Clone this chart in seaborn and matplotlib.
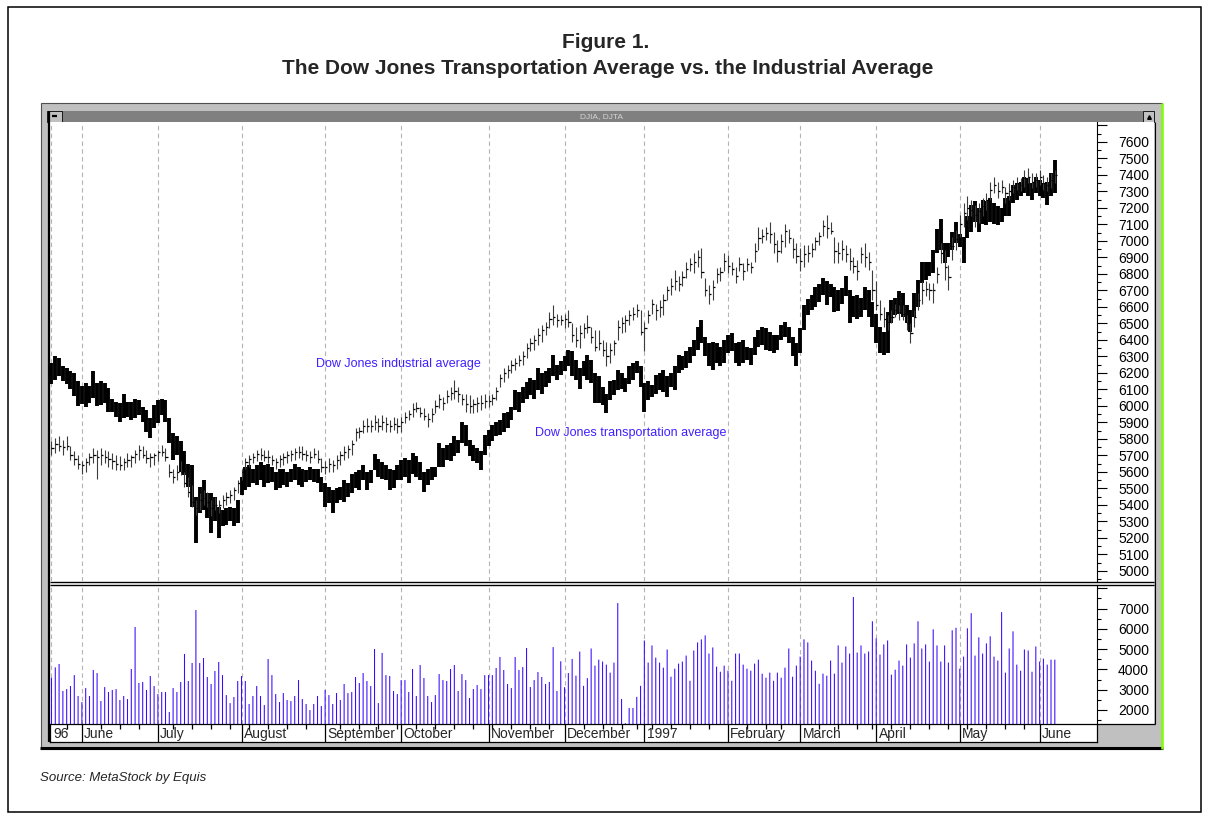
#!/usr/bin/env python3
# plot.py - MetaStock style overlay of DJIA and DJTA with NYSE volume, May 1996 - June 1997

import numpy as np
import pandas as pd
import matplotlib
matplotlib.use("Agg")
import matplotlib.pyplot as plt
import seaborn as sns
from matplotlib.patches import Rectangle

W, H = 1212, 822

# ---- data (one line per month: May96 .. Jun97) ----
DJTA_HIGH = [
    6260, 6300, 6290, 6240, 6230, 6210, 6200, 6150,
    6120, 6140, 6120, 6210, 6140, 6150, 6140, 6110, 6040, 6025, 6015, 6075, 6025, 6025, 6045, 6035, 5995, 5975, 5925, 6005,
    6035, 6045, 6035, 5925, 5835, 5815, 5785, 5725, 5650, 5640, 5450, 5510, 5550, 5470, 5470, 5450, 5390, 5370, 5380, 5390, 5380, 5430,
    5570, 5630, 5640, 5620, 5640, 5660, 5640, 5650, 5630, 5600, 5620, 5620, 5600, 5620, 5650, 5630, 5620, 5610, 5630, 5620, 5620, 5570,
    5530, 5510, 5490, 5500, 5510, 5550, 5530, 5590, 5600, 5610, 5640, 5600, 5610, 5710, 5680, 5660, 5640, 5620, 5610, 5640,
    5675, 5685, 5675, 5715, 5695, 5660, 5600, 5620, 5630, 5630, 5775, 5745, 5765, 5775, 5815, 5795, 5905, 5885, 5795, 5765, 5745, 5725, 5825,
    5855, 5885, 5905, 5915, 5955, 5965, 5995, 6095, 6085, 6115, 6145, 6170, 6160, 6230, 6200, 6210, 6230, 6310, 6250, 6270,
    6300, 6340, 6330, 6280, 6230, 6270, 6310, 6280, 6200, 6180, 6115, 6075, 6150, 6160, 6220, 6200, 6170, 6240, 6260, 6270, 6240,
    6140, 6150, 6125, 6190, 6200, 6220, 6180, 6200, 6240, 6310, 6300, 6330, 6360, 6400, 6480, 6520, 6420, 6380, 6390, 6380, 6360, 6400,
    6430, 6440, 6380, 6390, 6400, 6360, 6350, 6420, 6460, 6480, 6470, 6450, 6430, 6430, 6490, 6510, 6480, 6420, 6380,
    6470, 6610, 6650, 6670, 6720, 6740, 6775, 6760, 6740, 6720, 6705, 6715, 6785, 6705, 6665, 6675, 6655, 6720, 6705, 6630,
    6560, 6480, 6450, 6570, 6645, 6655, 6695, 6685, 6610, 6580, 6685, 6765, 6875, 6875, 6875, 6945, 7075, 7135, 6985, 6985, 7055, 7115,
    7045, 7025, 7150, 7220, 7240, 7200, 7250, 7240, 7260, 7230, 7210, 7200, 7260, 7270, 7340, 7350, 7360, 7390, 7380, 7350, 7390,
    7370, 7350, 7360, 7410, 7490,
]
DJTA_LOW = [
    6130, 6160, 6180, 6150, 6130, 6100, 6060, 6000,
    6010, 5995, 6020, 6050, 6000, 6005, 6015, 5965, 5965, 5935, 5905, 5925, 5935, 5915, 5925, 5945, 5905, 5845, 5805, 5865,
    5895, 5945, 5905, 5775, 5675, 5705, 5600, 5580, 5510, 5390, 5170, 5350, 5370, 5320, 5230, 5300, 5200, 5270, 5280, 5300, 5270, 5290,
    5460, 5490, 5510, 5530, 5520, 5550, 5510, 5530, 5540, 5490, 5500, 5520, 5510, 5540, 5550, 5520, 5510, 5540, 5550, 5540, 5530, 5480,
    5390, 5410, 5350, 5410, 5430, 5420, 5450, 5470, 5500, 5490, 5550, 5490, 5530, 5610, 5570, 5560, 5550, 5490, 5500, 5550,
    5550, 5570, 5530, 5590, 5570, 5550, 5480, 5520, 5550, 5570, 5630, 5630, 5675, 5665, 5695, 5715, 5775, 5755, 5695, 5665, 5655, 5610, 5705,
    5755, 5785, 5815, 5825, 5845, 5865, 5915, 5975, 5965, 6015, 6045, 6065, 6045, 6095, 6075, 6115, 6140, 6180, 6160, 6190,
    6210, 6240, 6180, 6160, 6100, 6180, 6160, 6140, 6015, 6015, 6005, 5955, 6035, 6065, 6095, 6105, 6085, 6135, 6160, 6200, 6115,
    5965, 6035, 6055, 6075, 6095, 6085, 6055, 6115, 6095, 6200, 6220, 6230, 6260, 6300, 6340, 6380, 6300, 6240, 6220, 6260, 6240, 6260,
    6320, 6330, 6260, 6240, 6260, 6280, 6250, 6310, 6360, 6370, 6340, 6330, 6320, 6340, 6400, 6420, 6380, 6300, 6240,
    6320, 6460, 6550, 6580, 6600, 6630, 6670, 6610, 6660, 6570, 6575, 6620, 6665, 6500, 6540, 6530, 6540, 6580, 6540, 6480,
    6380, 6320, 6310, 6320, 6500, 6550, 6560, 6540, 6500, 6450, 6540, 6600, 6745, 6765, 6785, 6805, 6925, 6945, 6865, 6905, 6945, 6985,
    6965, 6865, 7015, 7055, 7115, 7055, 7105, 7095, 7115, 7105, 7095, 7115, 7150, 7150, 7230, 7250, 7270, 7290, 7270, 7250, 7290,
    7270, 7260, 7220, 7270, 7290,
]
DJIA_HIGH = [
    5785, 5805, 5815, 5795, 5815, 5755, 5725, 5705,
    5665, 5685, 5715, 5745, 5735, 5745, 5735, 5725, 5715, 5705, 5695, 5685, 5715, 5705, 5735, 5765, 5755, 5735, 5715, 5715,
    5735, 5765, 5745, 5650, 5620, 5645, 5665, 5600, 5570, 5520, 5430, 5470, 5490, 5480, 5430, 5450, 5430, 5460, 5480, 5490, 5510, 5550,
    5620, 5685, 5705, 5715, 5735, 5745, 5735, 5735, 5705, 5685, 5705, 5715, 5725, 5735, 5745, 5755, 5755, 5735, 5725, 5745, 5735, 5685,
    5665, 5685, 5675, 5705, 5725, 5755, 5765, 5795, 5865, 5875, 5915, 5925, 5915, 5945, 5925, 5945, 5935, 5915, 5935, 5925,
    5935, 5965, 5975, 6015, 6025, 5995, 5985, 5955, 5985, 6035, 6075, 6055, 6095, 6115, 6155, 6115, 6075, 6075, 6065, 6045, 6055, 6065, 6075,
    6065, 6075, 6115, 6195, 6230, 6250, 6280, 6290, 6310, 6330, 6380, 6410, 6430, 6470, 6490, 6510, 6570, 6610, 6560, 6550,
    6560, 6580, 6500, 6480, 6490, 6500, 6550, 6480, 6460, 6460, 6400, 6390, 6380, 6400, 6520, 6540, 6550, 6580, 6600, 6620, 6580,
    6510, 6580, 6650, 6620, 6640, 6680, 6730, 6775, 6825, 6785, 6815, 6875, 6895, 6925, 6945, 6955, 6775, 6735, 6765, 6835, 6845, 6925,
    6915, 6875, 6845, 6905, 6865, 6895, 6875, 6985, 7085, 7075, 7085, 7115, 7055, 7005, 7045, 7105, 7075, 7015, 6985,
    6955, 6975, 6975, 6985, 7025, 7055, 7130, 7160, 7115, 7025, 6995, 7005, 6975, 6955, 6905, 6885, 6965, 6985, 6935, 6825,
    6755, 6645, 6600, 6550, 6580, 6620, 6610, 6610, 6550, 6500, 6580, 6685, 6755, 6755, 6745, 6745, 6845, 6985, 6945, 6855, 7025, 7065,
    7160, 7230, 7270, 7250, 7220, 7230, 7260, 7290, 7360, 7390, 7360, 7370, 7330, 7350, 7370, 7390, 7380, 7430, 7440, 7410, 7410,
    7430, 7400, 7390, 7410, 7430,
]
DJIA_LOW = [
    5705, 5715, 5725, 5705, 5735, 5675, 5640, 5620,
    5590, 5600, 5645, 5655, 5560, 5640, 5655, 5630, 5620, 5610, 5610, 5610, 5630, 5630, 5655, 5675, 5685, 5655, 5630, 5640,
    5665, 5695, 5665, 5570, 5530, 5550, 5580, 5510, 5450, 5390, 5340, 5370, 5400, 5390, 5330, 5370, 5350, 5380, 5400, 5410, 5430, 5470,
    5550, 5620, 5630, 5655, 5665, 5675, 5665, 5655, 5645, 5620, 5630, 5645, 5655, 5665, 5675, 5685, 5675, 5665, 5655, 5685, 5655, 5600,
    5590, 5600, 5600, 5620, 5645, 5675, 5685, 5705, 5785, 5805, 5835, 5845, 5845, 5855, 5845, 5855, 5845, 5845, 5855, 5835,
    5845, 5895, 5915, 5935, 5965, 5935, 5915, 5875, 5905, 5955, 5985, 5975, 6015, 6035, 6045, 6025, 6005, 5965, 5955, 5955, 5965, 5975, 5985,
    5995, 6005, 6035, 6115, 6145, 6170, 6200, 6220, 6240, 6250, 6290, 6330, 6340, 6370, 6390, 6430, 6470, 6490, 6480, 6490,
    6470, 6480, 6390, 6360, 6350, 6410, 6440, 6380, 6330, 6340, 6300, 6240, 6260, 6310, 6400, 6440, 6450, 6490, 6520, 6540, 6430,
    6330, 6500, 6560, 6520, 6540, 6550, 6640, 6675, 6705, 6695, 6725, 6775, 6815, 6805, 6845, 6775, 6665, 6620, 6640, 6745, 6755, 6815,
    6805, 6795, 6745, 6815, 6765, 6815, 6805, 6875, 6945, 6985, 7005, 6985, 6925, 6875, 6925, 6965, 6985, 6895, 6865,
    6815, 6845, 6875, 6905, 6945, 6975, 7030, 7020, 7045, 6865, 6865, 6885, 6875, 6825, 6805, 6765, 6865, 6845, 6825, 6640,
    6580, 6520, 6480, 6460, 6500, 6540, 6520, 6520, 6460, 6380, 6480, 6580, 6620, 6665, 6645, 6625, 6745, 6865, 6765, 6705, 6885, 6945,
    7025, 7085, 7130, 7150, 7085, 7110, 7150, 7190, 7250, 7290, 7260, 7290, 7230, 7250, 7290, 7310, 7300, 7330, 7350, 7320, 7330,
    7340, 7310, 7300, 7320, 7350,
]
DJIA_CLOSE = [
    5745, 5770, 5760, 5750, 5755, 5700, 5680, 5650,
    5640, 5660, 5690, 5700, 5690, 5700, 5690, 5680, 5665, 5650, 5640, 5660, 5670, 5690, 5710, 5730, 5700, 5685, 5690, 5700,
    5720, 5720, 5690, 5600, 5570, 5600, 5600, 5530, 5480, 5420, 5380, 5430, 5440, 5420, 5380, 5400, 5400, 5430, 5450, 5460, 5490, 5530,
    5600, 5660, 5680, 5690, 5710, 5700, 5690, 5690, 5670, 5660, 5680, 5690, 5700, 5710, 5720, 5720, 5710, 5700, 5690, 5710, 5680, 5630,
    5630, 5650, 5640, 5670, 5700, 5720, 5740, 5770, 5840, 5850, 5880, 5880, 5880, 5900, 5880, 5900, 5890, 5880, 5890, 5880,
    5900, 5930, 5950, 5980, 5990, 5960, 5940, 5920, 5950, 6000, 6040, 6020, 6060, 6080, 6090, 6070, 6040, 6010, 6000, 6010, 6020, 6020, 6030,
    6030, 6050, 6090, 6170, 6200, 6220, 6250, 6260, 6280, 6300, 6350, 6380, 6400, 6430, 6460, 6480, 6530, 6540, 6520, 6520,
    6530, 6510, 6430, 6400, 6440, 6470, 6480, 6420, 6360, 6380, 6340, 6300, 6340, 6380, 6480, 6500, 6520, 6550, 6560, 6580, 6450,
    6470, 6550, 6620, 6580, 6600, 6640, 6700, 6730, 6760, 6740, 6780, 6830, 6860, 6870, 6900, 6810, 6700, 6680, 6720, 6800, 6810, 6880,
    6850, 6830, 6790, 6860, 6820, 6860, 6840, 6940, 7020, 7030, 7050, 7040, 6980, 6940, 7000, 7060, 7020, 6950, 6910,
    6880, 6920, 6930, 6950, 7000, 7030, 7090, 7080, 7060, 6940, 6930, 6950, 6920, 6880, 6850, 6820, 6920, 6900, 6870, 6700,
    6610, 6560, 6530, 6510, 6540, 6580, 6570, 6560, 6500, 6440, 6540, 6640, 6700, 6710, 6700, 6700, 6800, 6930, 6840, 6780, 6970, 7010,
    7100, 7170, 7200, 7190, 7160, 7180, 7210, 7250, 7310, 7340, 7300, 7330, 7290, 7300, 7330, 7350, 7340, 7380, 7390, 7360, 7370,
    7390, 7350, 7340, 7370, 7400,
]
VOLUME = [
    3590, 4100, 4265, 2935, 3030, 3180, 3720, 2690,
    2390, 3080, 2690, 3970, 3820, 2440, 3130, 2885, 2985, 3030, 2490, 2690, 2540, 4020, 6090, 3330, 3380, 2985, 3675, 3180,
    2785, 2885, 2885, 1900, 3080, 2885, 3380, 4760, 3430, 4315, 6925, 4315, 4560, 3625, 3280, 3920, 4365, 3720, 2735, 2340, 2640, 3430,
    3675, 3430, 2295, 2690, 3180, 2690, 2245, 4510, 3720, 2785, 2390, 2835, 2490, 2440, 2690, 3475, 2540, 2295, 1995, 2295, 2690, 2195,
    2985, 2735, 2295, 2835, 2490, 3280, 2835, 2885, 3625, 3330, 3820, 3430, 3180, 5005, 2340, 4810, 3720, 3675, 2935, 2785,
    3475, 3475, 2885, 4020, 2690, 4215, 3575, 2690, 2390, 2735, 3770, 3475, 3430, 4020, 4215, 2935, 3770, 3475, 2590, 3030, 3230, 3030, 3720,
    3720, 3720, 4070, 4610, 3970, 3280, 3080, 4610, 3970, 4115, 5055, 3130, 3475, 3870, 3625, 3280, 3380, 5100, 2935, 4400,
    3125, 3820, 4515, 3690, 4880, 3190, 3570, 5030, 4185, 4480, 4385, 4235, 3840, 4335, 7265, 2545, 1350, 2100, 2100, 2645, 3190,
    5425, 4335, 5180, 4580, 4335, 4085, 4980, 3640, 4035, 4285, 4385, 4680, 3440, 4930, 5330, 5480, 5675, 4780, 5080, 4135, 3885, 4185,
    3935, 3440, 4780, 4780, 4235, 4035, 3935, 4285, 4480, 3790, 3590, 3840, 3440, 3840, 3590, 4085, 5030, 3640, 4185,
    4630, 5480, 5330, 4435, 3935, 3290, 3790, 3690, 4435, 3790, 5180, 4335, 5130, 4780, 7565, 4830, 5180, 4780, 4880, 6370,
    5530, 4730, 5230, 5425, 3740, 3985, 4435, 4185, 5230, 4580, 5280, 6370, 5030, 5230, 4385, 5975, 5180, 4385, 5180, 4335, 5925, 6050,
    4035, 4630, 6025, 6770, 4680, 5580, 4780, 5280, 5630, 4630, 4435, 6820, 3840, 5030, 5875, 4235, 3935, 4980, 4930, 3885, 5130,
    4385, 4530, 4235, 4480, 4480,
]

FIRST_DAY, LAST_DAY = "1996-05-21", "1997-06-06"
HOLIDAYS = ["1996-05-27", "1996-07-04", "1996-09-02", "1996-11-28", "1996-12-25",
            "1997-01-01", "1997-02-17", "1997-03-28", "1997-05-26"]

PRICE_TICKS = list(range(5000, 7800, 100))
VOL_TICKS = list(range(2000, 9000, 1000))

LABEL_BLUE = "#4020ff"
VOL_COLOR = "#3a0cff"
GRID_GREY = "#b4b4b4"
FRAME_GREY = "#c0c0c0"

X_LIM = (-0.39, 275.1)
PRICE_LIM = (4939, 7721)
VOL_LIM = (1310, 8158)


def fig_box(x0, y0, x1, y1):
    # pixel box (top-left origin) -> figure fraction [left, bottom, width, height]
    return [x0 / W, 1 - y1 / H, (x1 - x0) / W, (y1 - y0) / H]


def trading_days():
    days = pd.bdate_range(FIRST_DAY, LAST_DAY)
    return days[~days.isin(pd.to_datetime(HOLIDAYS))]


def style_right_axis(ax, ticks, labels, minor):
    ax.set_yticks(ticks, labels)
    ax.set_yticks(minor, minor=True)
    ax.yaxis.tick_right()
    ax.tick_params(axis="y", which="major", right=True, left=False, labelright=True,
                   labelleft=False, length=7.2, width=0.8, pad=8, labelsize=10,
                   direction="out", colors="black")
    ax.tick_params(axis="y", which="minor", right=True, left=False, length=3,
                   width=0.8, direction="out", colors="black")
    ax.tick_params(axis="x", bottom=False, top=False, labelbottom=False)
    ax.set_xlabel("")
    ax.set_ylabel("")
    for side in ("top", "bottom", "left"):
        ax.spines[side].set_visible(False)
    ax.spines["right"].set_color("black")
    ax.spines["right"].set_linewidth(0.8)


def main():
    sns.set_theme(style="white")
    plt.rcParams["font.family"] = ["Liberation Sans", "DejaVu Sans"]
    plt.rcParams["patch.force_edgecolor"] = False
    narrow = ["DejaVu Sans Condensed", "Liberation Sans Narrow", "Liberation Sans", "DejaVu Sans"]

    days = trading_days()
    n = len(VOLUME)
    idx = np.arange(n)
    months = np.asarray(days.month)
    weeks = np.asarray(days.isocalendar().week)
    month_pos = [0] + [i for i in range(1, min(n, len(days))) if months[i] != months[i - 1]]
    week_pos = [i for i in range(1, min(n, len(days)))
                if weeks[i] != weeks[i - 1] and i not in month_pos]
    month_lbl = []
    for i in month_pos:
        if i == 0:
            month_lbl.append(days[i].strftime("%y"))
        elif days[i].month == 1:
            month_lbl.append(days[i].strftime("%Y"))
        else:
            month_lbl.append(days[i].strftime("%B"))

    fig = plt.figure(figsize=(W / 100, H / 100), dpi=100)
    fig.patch.set_facecolor("white")

    # --- window chrome (pixel space) ---
    bg = fig.add_axes([0, 0, 1, 1], zorder=0)
    bg.set_xlim(0, W)
    bg.set_ylim(H, 0)
    bg.axis("off")
    bg.add_patch(Rectangle((7.5, 7.5), 1193.5, 804, fill=False, ec="black", lw=1.1))
    bg.add_patch(Rectangle((40.5, 103.5), 1121, 645, fc=FRAME_GREY, ec="#505050", lw=0.8))
    bg.add_patch(Rectangle((62, 111), 1081, 11, fc="#808080", ec="none"))
    bg.add_patch(Rectangle((47, 111), 15, 11, fc=FRAME_GREY, ec="black", lw=0.6))
    bg.plot([51.5, 56.5], [116.5, 116.5], color="black", lw=1.6, solid_capstyle="butt")
    bg.add_patch(Rectangle((1143, 111), 11, 11, fc=FRAME_GREY, ec="black", lw=0.6))
    bg.plot([1148.5], [117], marker="^", ms=2.6, color="black")
    bg.text(601, 116.5, "DJIA, DJTA", fontsize=6, color="#d4d4d4", ha="center", va="center")
    bg.add_patch(Rectangle((50, 122), 1104, 602, fc="white", ec="none"))
    bg.plot([40, 1163], [748, 748], color="black", lw=2.2, solid_capstyle="butt")
    bg.plot([1162, 1162], [103, 749], color="#80ff00", lw=1.8, solid_capstyle="butt")

    fig.text(606 / W, 1 - 43 / H, "Figure 1.", ha="center", va="center",
             fontsize=15, fontweight="bold", fontstretch="condensed", family=narrow)
    fig.text(608 / W, 1 - 69 / H,
             "The Dow Jones Transportation Average vs. the Industrial Average",
             ha="center", va="center", fontsize=15, fontweight="bold",
             fontstretch="condensed", family=narrow)
    fig.text(40 / W, 1 - 778 / H, "Source: MetaStock by Equis", ha="left", va="center",
             fontsize=9.5, style="italic")

    # --- price panel ---
    ax = fig.add_axes(fig_box(50, 122, 1097, 581), zorder=2)
    ax.set_facecolor("white")
    ax.vlines(month_pos, *PRICE_LIM, colors=GRID_GREY, linestyles=(0, (4, 3)), lw=0.8, zorder=1)
    ax.vlines(idx, DJTA_LOW, DJTA_HIGH, colors="black", lw=2.8, zorder=2)
    ax.vlines(idx, DJIA_LOW, DJIA_HIGH, colors="#3c3c3c", lw=0.8, zorder=3)
    ax.hlines(DJIA_CLOSE, idx, idx + 0.6, colors="black", lw=0.9, zorder=3)
    ax.text(69.6, 6255, "Dow Jones industrial average", color=LABEL_BLUE, fontsize=9,
            ha="left", va="center", zorder=4)
    ax.text(127.2, 5836, "Dow Jones transportation average", color=LABEL_BLUE, fontsize=9,
            ha="left", va="center", zorder=4)
    ax.set_xlim(*X_LIM)
    ax.set_ylim(*PRICE_LIM)
    style_right_axis(ax, PRICE_TICKS, [str(t) if t <= 7600 else "" for t in PRICE_TICKS],
                     list(range(4950, 7750, 100)))

    # --- volume panel ---
    vax = fig.add_axes(fig_box(50, 585, 1097, 724), zorder=2)
    vax.set_facecolor("white")
    vax.vlines(month_pos, *VOL_LIM, colors=GRID_GREY, linestyles=(0, (4, 3)), lw=0.8, zorder=0)
    sns.barplot(x=idx, y=VOLUME, native_scale=True, color=VOL_COLOR, saturation=1,
                width=0.28, linewidth=0, edgecolor="none", errorbar=None, ax=vax)
    for bar in vax.patches:
        bar.set_edgecolor("none")
        bar.set_linewidth(0)
        bar.set_facecolor(VOL_COLOR)
        bar.set_snap(False)
        bar.set_antialiased(True)
    vax.set_xlim(*X_LIM)
    vax.set_ylim(*VOL_LIM)
    style_right_axis(vax, VOL_TICKS, [str(t) if t <= 7000 else "" for t in VOL_TICKS],
                     list(range(1500, 8500, 1000)))

    # --- month strip ---
    sax = fig.add_axes(fig_box(50, 724, 1097, 742), zorder=2)
    sax.set_facecolor("white")
    sax.set_xlim(*X_LIM)
    sax.set_ylim(0, 1)
    sax.set_xticks([])
    sax.set_yticks([])
    for side in sax.spines.values():
        side.set_visible(True)
        side.set_color("black")
        side.set_linewidth(0.9)
    sax.vlines(month_pos[1:], 0, 1, colors="black", lw=0.9)
    sax.vlines(week_pos, 0.7, 1, colors="black", lw=0.9)
    for pos, lbl in zip(month_pos, month_lbl):
        sax.text(pos + 0.6, 0.42, lbl, fontsize=10, ha="left", va="center")

    # --- lines drawn over the panels ---
    ov = fig.add_axes([0, 0, 1, 1], zorder=5)
    ov.set_xlim(0, W)
    ov.set_ylim(H, 0)
    ov.axis("off")
    ov.patch.set_alpha(0)
    for y in (581.5, 584.5):
        ov.plot([50, 1154], [y, y], color="black", lw=1.0, solid_capstyle="butt")
    ov.plot([49, 49], [111, 742], color="black", lw=1.6, solid_capstyle="butt")
    ov.plot([1154.5, 1154.5], [122, 724], color="black", lw=0.8, solid_capstyle="butt")
    ov.plot([1097, 1155], [724, 724], color="black", lw=0.9, solid_capstyle="butt")

    fig.savefig("out.png", dpi=100)


if __name__ == "__main__":
    main()
